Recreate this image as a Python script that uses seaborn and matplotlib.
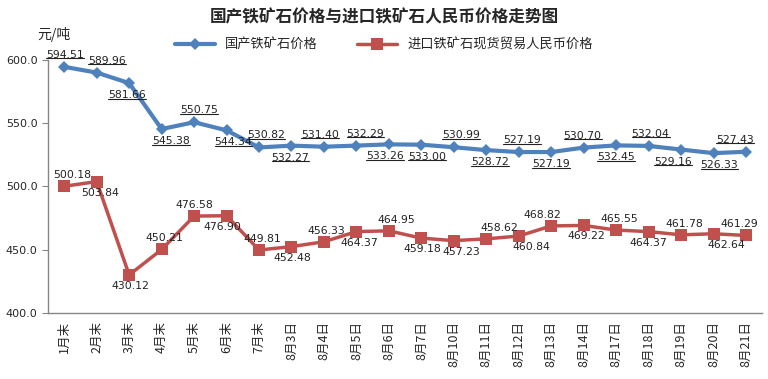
import pandas as pd
import seaborn as sns
import matplotlib.pyplot as plt

# categories and series
dates = ["1月末", "2月末", "3月末", "4月末", "5月末", "6月末", "7月末",
         "8月3日", "8月4日", "8月5日", "8月6日", "8月7日", "8月10日", "8月11日",
         "8月12日", "8月13日", "8月14日", "8月17日", "8月18日", "8月19日",
         "8月20日", "8月21日"]
domestic = [594.51, 589.96, 581.66, 545.38, 550.75, 544.34, 530.82, 532.27,
            531.40, 532.29, 533.26, 533.00, 530.99, 528.72, 527.19, 527.19,
            530.70, 532.45, 532.04, 529.16, 526.33, 527.43]
imported = [500.18, 503.84, 430.12, 450.21, 476.58, 476.90, 449.81, 452.48,
            456.33, 464.37, 464.95, 459.18, 457.23, 458.62, 460.84, 468.82,
            469.22, 465.55, 464.37, 461.78, 462.64, 461.29]

# label placement: 1 = above, -1 = below, plus a sideways nudge in pixels
dom_pos = [1, 1, -1, -1, 1, -1, 1, -1, 1, 1, -1, -1, 1, -1, 1, -1, 1, -1, 1, -1, -1, 1]
dom_dx = [1, 10, -2, 9, 5, 7, 7, -1, -4, 9, -4, 6, 7, 4, 3, 0, -1, 0, 2, -8, 6, -11]
imp_pos = [1, -1, -1, 1, 1, -1, 1, -1, 1, -1, 1, -1, -1, 1, -1, 1, -1, 1, -1, 1, -1, 1]
imp_dx = [8, 3, 1, 3, 0, -4, 3, 1, 2, 3, 7, 1, 7, 13, 13, -9, 3, 3, 0, 3, 13, -7]

name_dom = "国产铁矿石价格"
name_imp = "进口铁矿石现货贸易人民币价格"

df = pd.DataFrame({"date": dates * 2,
                   "price": domestic + imported,
                   "series": [name_dom] * len(dates) + [name_imp] * len(dates)})

sns.set_style("white")
plt.rcParams["font.family"] = ["Noto Sans CJK SC", "DejaVu Sans"]

fig = plt.figure(figsize=(7.68, 3.79), dpi=100)
ax = fig.add_axes([0.0625, 0.174, 0.93, 0.668])

blue = "#4F81BD"
red = "#C0504D"
sns.lineplot(data=df, x="date", y="price", hue="series", style="series",
             palette={name_dom: blue, name_imp: red},
             markers={name_dom: "D", name_imp: "s"}, dashes=False,
             sort=False, ax=ax, legend=False)
for ln, lw, ms in zip(ax.lines, [3, 2.5], [6, 9]):
    ln.set_linewidth(lw)
    ln.set_markersize(ms)
    ln.set_markeredgewidth(0)

# data labels (domestic ones are underlined in the original)
dom_labels = []
for i, (v, p, dx) in enumerate(zip(domestic, dom_pos, dom_dx)):
    t = ax.annotate(f"{v:.2f}", (i, v), xytext=(dx, 12 * p), textcoords="offset pixels",
                    ha="center", va="center", fontsize=7.8,
                    color="#222222", family="DejaVu Sans")
    dom_labels.append(t)
for i, (v, p, dx) in enumerate(zip(imported, imp_pos, imp_dx)):
    ax.annotate(f"{v:.2f}", (i, v), xytext=(dx, 11 * p), textcoords="offset pixels",
                ha="center", va="center", fontsize=7.8,
                color="#222222", family="DejaVu Sans")

ax.set_xlim(-0.5, len(dates) - 0.5)
ax.set_ylim(400, 600)
ax.set_yticks([400, 450, 500, 550, 600])
ax.set_yticklabels([f"{t:.1f}" for t in [400, 450, 500, 550, 600]], fontsize=8,
                   family="DejaVu Sans")
ax.set_xticks(range(len(dates)))
ax.set_xticklabels(dates, rotation=90, fontsize=9)
ax.tick_params(axis="x", length=0, pad=6)
ax.set_xticks([i - 0.5 for i in range(len(dates) + 1)], minor=True)
ax.tick_params(axis="x", which="minor", length=4, direction="in", color="#868686")
ax.tick_params(axis="y", length=4, direction="out", color="#868686", left=True)
ax.set_xlabel("")
ax.set_ylabel("")
for s in ["top", "right"]:
    ax.spines[s].set_visible(False)
for s in ["left", "bottom"]:
    ax.spines[s].set_color("#868686")
    ax.spines[s].set_linewidth(1)

# title, unit, legend
fig.text(0.5, 0.955, "国产铁矿石价格与进口铁矿石人民币价格走势图", ha="center",
         va="center", fontsize=12, fontweight="bold")
fig.text(0.048, 0.91, "元/吨", ha="left", va="center", fontsize=10)
handles = [plt.Line2D([], [], color=blue, lw=3, marker="D", ms=6, mew=0),
           plt.Line2D([], [], color=red, lw=2.5, marker="s", ms=8, mew=0)]
fig.legend(handles, [name_dom, name_imp], loc="center", bbox_to_anchor=(0.5, 0.88),
           ncol=2, frameon=False, fontsize=9.5, handlelength=3, columnspacing=3)

# underline the domestic labels
fig.canvas.draw()
r = fig.canvas.get_renderer()
for t in dom_labels:
    bb = t.get_window_extent(r).transformed(fig.transFigure.inverted())
    fig.add_artist(plt.Line2D([bb.x0, bb.x1], [bb.y0 + 0.004, bb.y0 + 0.004],
                              transform=fig.transFigure, color="#222222", lw=0.8))

fig.savefig("out.png", dpi=100)
